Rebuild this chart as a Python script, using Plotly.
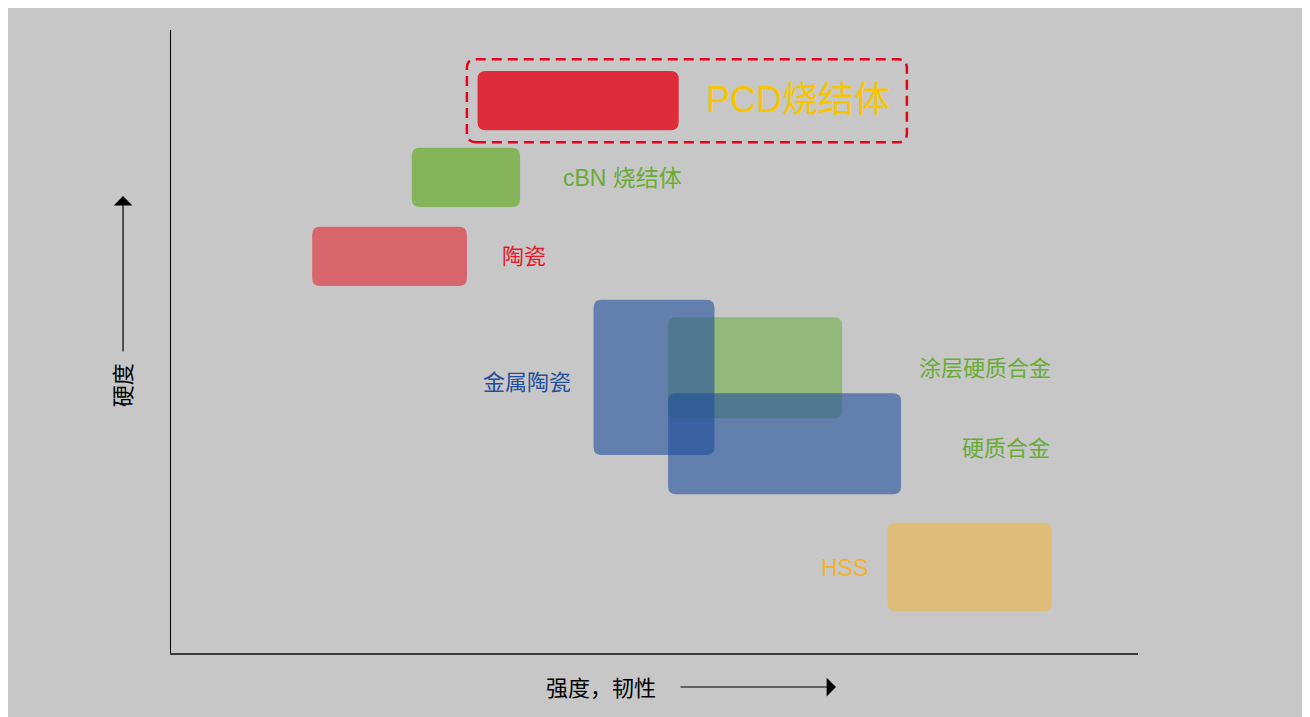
import plotly.graph_objects as go

# Datos: rangos de cada material (x = tenacidad, y = dureza), escala 0-100
materials = ['cBN 烧结体', 'PCD烧结体', '陶瓷', '涂层硬质合金', '金属陶瓷', '硬质合金', 'HSS']
x_lo = [24.9, 31.7, 14.6, 51.4, 43.7, 51.4, 74.1]
x_hi = [36.1, 52.5, 30.6, 69.4, 56.2, 75.5, 91.1]
y_lo = [71.6, 83.9, 58.9, 37.7, 31.8, 25.5, 6.7]
y_hi = [81.1, 93.4, 68.4, 53.9, 56.7, 41.7, 20.9]
fills = ['#86b45a', '#de2c3b', '#d8646c', 'rgba(112,173,71,0.6)',
         'rgba(31,78,155,0.6)', 'rgba(31,78,155,0.6)', '#dfbd79']

# etiquetas
label_text = ['PCD烧结体', 'cBN 烧结体', '陶瓷', '金属陶瓷', '涂层硬质合金', '硬质合金', 'HSS']
label_x = [55.1, 40.3, 34.0, 41.6, 91.2, 91.1, 72.3]
label_y = [88.8, 76.2, 63.6, 43.5, 45.7, 32.9, 13.6]
label_anchor = ['left', 'left', 'left', 'right', 'right', 'right', 'right']
label_color = ['#f7c600', '#6aab36', '#e3182b', '#1f4e9a', '#6aab36', '#6aab36', '#f2b134']
label_size = [36, 23, 22, 22, 22, 22, 23]

# recuadro punteado alrededor de PCD
box_x = [30.6, 76.1]
box_y = [82.0, 95.3]

W, H = 1302, 712
M = dict(l=163, r=172, t=22, b=67)
px_x = (W - M['l'] - M['r']) / 100.0
px_y = (H - M['t'] - M['b']) / 100.0


def rounded(x0, x1, y0, y1, r=8):
    rx, ry = r / px_x, r / px_y
    return (f"M {x0+rx},{y0} L {x1-rx},{y0} Q {x1},{y0} {x1},{y0+ry} "
            f"L {x1},{y1-ry} Q {x1},{y1} {x1-rx},{y1} L {x0+rx},{y1} "
            f"Q {x0},{y1} {x0},{y1-ry} L {x0},{y0+ry} Q {x0},{y0} {x0+rx},{y0} Z")


fig = go.Figure()

for i in range(len(materials)):
    fig.add_shape(type='path', path=rounded(x_lo[i], x_hi[i], y_lo[i], y_hi[i]),
                  xref='x', yref='y', fillcolor=fills[i], line=dict(width=0))

fig.add_shape(type='path', path=rounded(box_x[0], box_x[1], box_y[0], box_y[1], r=9),
              xref='x', yref='y', fillcolor='rgba(0,0,0,0)',
              line=dict(color='#e8001c', width=2.5, dash='10px,6px'))

font = 'Liberation Sans, Noto Sans CJK SC'
for t, x, y, a, c, s in zip(label_text, label_x, label_y, label_anchor, label_color, label_size):
    fig.add_annotation(x=x, y=y, text=t, showarrow=False, xanchor=a, yanchor='middle',
                       font=dict(color=c, size=s, family=font))

# titulos de ejes con flechas
fig.add_annotation(xref='paper', yref='paper', x=0.4447, y=-0.0562, text='强度，韧性',
                   xanchor='center', yanchor='middle',
                   showarrow=False, font=dict(size=22, color='black', family=font))
fig.add_annotation(xref='paper', yref='paper', x=-0.0496, y=0.430, text='硬度', textangle=-90,
                   xanchor='center', yanchor='middle',
                   showarrow=False, font=dict(size=22, color='black', family=font))
fig.add_annotation(xref='paper', yref='paper', axref='pixel', ayref='pixel',
                   x=0.6877, y=-0.0546, ax=-157, ay=0, text='', showarrow=True,
                   arrowhead=1, arrowsize=2.6, arrowwidth=1.2, arrowcolor='black')
fig.add_annotation(xref='paper', yref='paper', axref='pixel', ayref='pixel',
                   x=-0.0496, y=0.7335, ax=0, ay=157, text='', showarrow=True,
                   arrowhead=1, arrowsize=2.6, arrowwidth=1.2, arrowcolor='black')

fig.update_xaxes(range=[0, 100], showgrid=False, zeroline=False, showticklabels=False,
                 showline=True, linecolor='#3a3a3a', linewidth=2)
fig.update_yaxes(range=[0, 100], showgrid=False, zeroline=False, showticklabels=False,
                 showline=True, linecolor='black', linewidth=1)

fig.update_layout(width=W, height=H, margin=M, paper_bgcolor='#c7c7c7',
                  plot_bgcolor='#c7c7c7', showlegend=False)

fig.write_html("out.html")
